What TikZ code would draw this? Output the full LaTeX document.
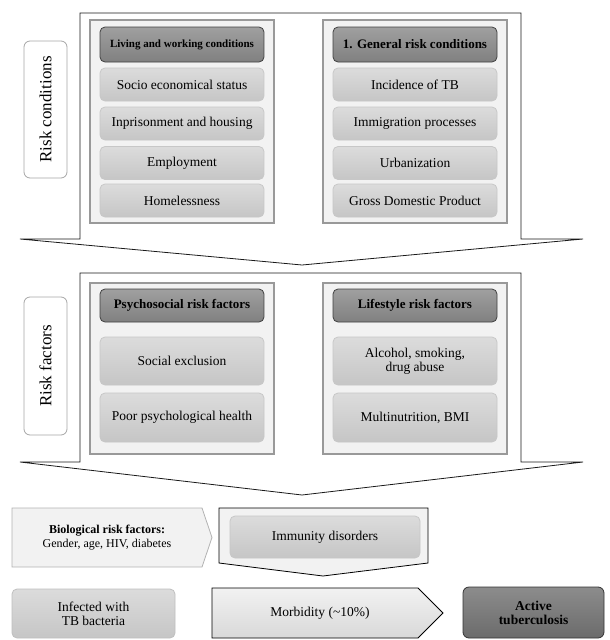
\documentclass[tikz,border=0pt]{standalone}
\usepackage{fontspec}
\setmainfont{Liberation Serif}
\usepackage{tikz}

\definecolor{panelgray}{HTML}{F2F2F2}
\definecolor{itemgray}{HTML}{D0D0D0}
\definecolor{headgray}{HTML}{808080}

\begin{document}
\begin{tikzpicture}[x=1pt, y=-1pt, line width=0.8pt,
  panel/.style={draw=black!40, line width=1.3pt, fill=panelgray},
  chev/.style={draw=black!90, fill=white},
  head/.style={draw=black!75, rounded corners=5pt, top color=headgray!75, bottom color=headgray,
    minimum width=164pt, minimum height=35pt, inner sep=1pt, font=\bfseries},
  item/.style={draw=black!22, rounded corners=5pt, top color=itemgray!75, bottom color=itemgray!95!black,
    minimum width=164pt, inner sep=1pt, align=center, font=\fontsize{13.5}{15}\selectfont},
  tag/.style={draw=black!35, rounded corners=6pt, fill=white, minimum width=43pt,
    inner sep=1pt, font=\fontsize{17}{19}\selectfont}]

  \useasboundingbox (0,0) rectangle (610,640);

  % risk conditions
  \draw[chev] (80,13) -- (521,13) -- (521,239) -- (583,239) -- (302,265) -- (20,239) -- (80,239) -- cycle;
  \node[tag, minimum height=137pt] (condtag) at (45.5,109.5) {};
  \node[rotate=90, font=\fontsize{17}{19}\selectfont] (condtxt) at (condtag) {Risk conditions};

  \draw[panel] (90,20) rectangle (274,223);
  \node[head, font=\bfseries\fontsize{11}{13}\selectfont] (living) at (182,44.5) {Living and working conditions};
  \node[item, minimum height=33pt] (socio) at (182,84.5) {Socio economical status};
  \node[item, minimum height=33pt] (prison) at (182,123.5) {Inprisonment and housing};
  \node[item, minimum height=33pt] (employ) at (182,163) {Employment};
  \node[item, minimum height=33pt] (homeless) at (182,200.5) {Homelessness};

  \draw[panel] (323,20) rectangle (507,223);
  \node[head, font=\bfseries\fontsize{13}{15}\selectfont] (general) at (415,44.5) {1. General risk conditions};
  \node[item, minimum height=33pt] (incidence) at (415,84.5) {Incidence of TB};
  \node[item, minimum height=33pt] (immigr) at (415,123.5) {Immigration processes};
  \node[item, minimum height=33pt] (urban) at (415,163) {Urbanization};
  \node[item, minimum height=33pt] (gdp) at (415,200.5) {Gross Domestic Product};

  % risk factors
  \draw[chev] (80,273) -- (521,273) -- (521,462) -- (583,462) -- (302,495) -- (20,462) -- (80,462) -- cycle;
  \node[tag, minimum height=138pt] (factag) at (45.5,366) {};
  \node[rotate=90, font=\fontsize{17}{19}\selectfont] (factxt) at (factag) {Risk factors};

  \draw[panel] (90,283) rectangle (274,454);
  \node[head, minimum height=33pt, font=\bfseries\fontsize{13}{15}\selectfont] (psycho) at (182,305.5) {Psychosocial risk factors};
  \node[item, minimum height=48pt] (exclusion) at (182,361) {Social exclusion};
  \node[item, minimum height=49pt] (poorhealth) at (182,417.5) {Poor psychological health};

  \draw[panel] (323,283) rectangle (507,454);
  \node[head, minimum height=33pt, font=\bfseries\fontsize{13}{15}\selectfont] (lifestyle) at (415,305.5) {Lifestyle risk factors};
  \node[item, minimum height=48pt] (alcohol) at (415,361) {Alcohol, smoking,\\[-1pt] drug abuse};
  \node[item, minimum height=49pt] (bmi) at (415,417.5) {Multinutrition, BMI};

  % biological factors and outcome
  \draw[draw=black!30, fill=panelgray] (12,508) -- (202,508) -- (212,537.5) -- (202,567) -- (12,567) -- cycle;
  \node[align=center, font=\fontsize{12}{14}\selectfont] (bio) at (107,537.5)
    {\textbf{Biological risk factors:}\\ Gender, age, HIV, diabetes};

  \draw[draw=black, fill=panelgray] (219,508) -- (428,508) -- (428,563) -- (323,576) -- (219,563) -- cycle;
  \node[item, minimum width=190pt, minimum height=42pt] (immunity) at (325,537) {Immunity disorders};

  \node[item, minimum width=163pt, minimum height=49pt, draw=black!25] (infected) at (93.5,613.5) {Infected with\\[-1pt] TB bacteria};
  \draw[draw=black, top color=panelgray, bottom color=black!15] (212,588) -- (418,588) -- (443,613) -- (418,638) -- (212,638) -- cycle;
  \node[font=\fontsize{13.5}{15}\selectfont] (morbid) at (320,613) {Morbidity (\textasciitilde10\%)};
  \node[draw=black!80, rounded corners=6pt, top color=black!45, bottom color=black!58,
    minimum width=141pt, minimum height=51pt, align=center,
    font=\bfseries\fontsize{13.5}{15}\selectfont] (active) at (533.5,612.5) {Active\\[-1pt] tuberculosis};

\end{tikzpicture}
\end{document}
